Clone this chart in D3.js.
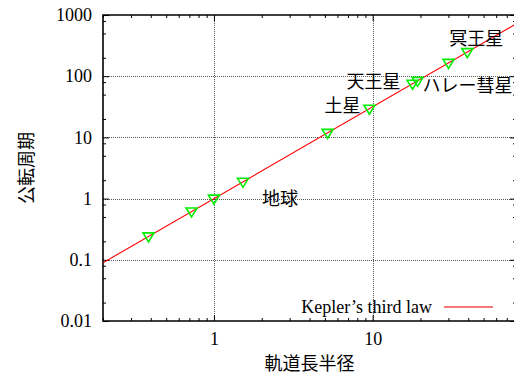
<!DOCTYPE html>
<html>
<head>
<meta charset="utf-8">
<script src="https://cdn.jsdelivr.net/npm/d3@7"></script>
<style>
  html, body { margin: 0; padding: 0; background: #fff; }
  svg { display: block; }
  text { font-family: "Liberation Serif", "Noto Sans CJK JP", serif; fill: #000; }
</style>
</head>
<body>
<div id="chart"></div>
<script>
// ---- data ----
const planetNames = ["水星", "金星", "地球", "火星", "木星", "土星", "天王星", "海王星", "冥王星", "ハレー彗星"];
const semiMajorAxis = [0.387, 0.723, 1.0, 1.524, 5.203, 9.537, 19.19, 30.07, 39.48, 17.83];
const orbitalPeriod = [0.241, 0.615, 1.0, 1.881, 11.86, 29.46, 84.01, 164.8, 247.7, 75.3];
const labeledNames = ["地球", "土星", "天王星", "ハレー彗星", "冥王星"];
const keplerX = [0.2, 80];
const keplerT = [0.0894, 715.5];
const xTickValues = [1, 10];
const yTickValues = [0.01, 0.1, 1, 10, 100, 1000];
const xTitle = "軌道長半径";
const yTitle = "公転周期";
const legendLabel = "Kepler’s third law";

// ---- layout ----
const W = 514, H = 374;
const L = 103, R = 516, T = 15, B = 321;

const svg = d3.select("#chart").append("svg").attr("width", W).attr("height", H);

const x = d3.scaleLog().domain([0.2, 80]).range([L, R]);
const y = d3.scaleLog().domain([0.01, 1000]).range([B, T]);

// minor ticks
const xMinor = [];
for (let e = -1; e <= 1; e++) for (let m = 2; m <= 9; m++) {
  const v = m * Math.pow(10, e);
  if (v >= 0.2 && v <= 80) xMinor.push(+v.toPrecision(3));
}
const yMinor = [];
for (let e = -2; e <= 2; e++) for (const m of [2, 5, 8]) yMinor.push(+(m * Math.pow(10, e)).toPrecision(3));

// grid
const grid = svg.append("g").attr("stroke", "#555").attr("stroke-width", 1).attr("stroke-dasharray", "1,1");
grid.selectAll("line.gx").data(xTickValues).join("line")
  .attr("x1", d => Math.round(x(d)) + 0.5).attr("x2", d => Math.round(x(d)) + 0.5)
  .attr("y1", T).attr("y2", B);
grid.selectAll("line.gy").data(yTickValues.filter(v => v > 0.01 && v < 1000)).join("line")
  .attr("y1", d => Math.round(y(d)) + 0.5).attr("y2", d => Math.round(y(d)) + 0.5)
  .attr("x1", L).attr("x2", R);

// axes
function styleAxis(g) {
  g.select(".domain").remove();
  g.selectAll(".tick line").attr("stroke", "#000").attr("stroke-width", 1);
  g.selectAll(".tick text").attr("font-size", 18).attr("font-family", "Liberation Serif, serif");
}
const fmt = d => String(d);

svg.append("g").attr("transform", `translate(0,${B})`)
  .call(d3.axisBottom(x).tickValues(xTickValues).tickFormat(fmt).tickSize(-6).tickSizeOuter(0).tickPadding(11))
  .call(styleAxis);
svg.append("g").attr("transform", `translate(0,${B})`)
  .call(d3.axisBottom(x).tickValues(xMinor).tickFormat("").tickSize(-3).tickSizeOuter(0))
  .call(styleAxis);
svg.append("g").attr("transform", `translate(0,${T})`)
  .call(d3.axisTop(x).tickValues(xTickValues).tickFormat("").tickSize(-6).tickSizeOuter(0))
  .call(styleAxis);
svg.append("g").attr("transform", `translate(0,${T})`)
  .call(d3.axisTop(x).tickValues(xMinor).tickFormat("").tickSize(-3).tickSizeOuter(0))
  .call(styleAxis);

svg.append("g").attr("transform", `translate(${L},0)`)
  .call(d3.axisLeft(y).tickValues(yTickValues).tickFormat(fmt).tickSize(-6).tickSizeOuter(0).tickPadding(11))
  .call(styleAxis);
svg.append("g").attr("transform", `translate(${L},0)`)
  .call(d3.axisLeft(y).tickValues(yMinor).tickFormat("").tickSize(-3).tickSizeOuter(0))
  .call(styleAxis);
svg.append("g").attr("transform", `translate(${R},0)`)
  .call(d3.axisRight(y).tickValues(yTickValues).tickFormat("").tickSize(-6).tickSizeOuter(0))
  .call(styleAxis);
svg.append("g").attr("transform", `translate(${R},0)`)
  .call(d3.axisRight(y).tickValues(yMinor).tickFormat("").tickSize(-3).tickSizeOuter(0))
  .call(styleAxis);

// border
svg.append("path")
  .attr("d", `M${R},${T}H${L}V${B}H${R}V${T}`)
  .attr("fill", "none").attr("stroke", "#000").attr("stroke-width", 1.6);

// Kepler line
svg.append("clipPath").attr("id", "clip").append("rect")
  .attr("x", L).attr("y", T).attr("width", R - L).attr("height", B - T);
const plot = svg.append("g").attr("clip-path", "url(#clip)");
plot.append("path")
  .datum(keplerX.map((v, i) => [v, keplerT[i]]))
  .attr("d", d3.line().x(d => x(d[0])).y(d => y(d[1])))
  .attr("fill", "none").attr("stroke", "#ff0000").attr("stroke-width", 1.1);

// points (downward triangles)
const pts = planetNames.map((n, i) => ({ name: n, a: semiMajorAxis[i], t: orbitalPeriod[i] }));
plot.selectAll("path.pt").data(pts).join("path")
  .attr("class", "pt")
  .attr("transform", d => `translate(${x(d.a)},${y(d.t)})`)
  .attr("d", "M-5.5,-3.5L5.5,-3.5L0,5.5Z")
  .attr("fill", "none").attr("stroke", "#00ee00").attr("stroke-width", 1.6);

// labels
const labelOffsets = {
  "地球": { dx: 48, dy: 0, anchor: "start" },
  "土星": { dx: -9, dy: -3, anchor: "end" },
  "天王星": { dx: -17, dy: 1, anchor: "end" },
  "ハレー彗星": { dx: 10, dy: 2, anchor: "start" },
  "冥王星": { dx: -18, dy: -13.5, anchor: "start" }
};
svg.selectAll("text.lbl").data(pts.filter(p => labeledNames.includes(p.name))).join("text")
  .attr("class", "lbl")
  .attr("x", d => x(d.a) + labelOffsets[d.name].dx)
  .attr("y", d => y(d.t) + labelOffsets[d.name].dy)
  .attr("text-anchor", d => labelOffsets[d.name].anchor)
  .attr("dominant-baseline", "central")
  .attr("font-family", "Noto Sans CJK JP")
  .attr("font-size", 18)
  .text(d => d.name);

// legend
svg.append("text").attr("x", 432).attr("y", 307).attr("text-anchor", "end")
  .attr("dominant-baseline", "central").attr("font-size", 18).text(legendLabel);
svg.append("line").attr("x1", 444).attr("x2", 493).attr("y1", 307).attr("y2", 307)
  .attr("stroke", "#f47a7a").attr("stroke-width", 2);

// axis titles
svg.append("text").attr("x", (L + R) / 2).attr("y", 364).attr("text-anchor", "middle")
  .attr("dominant-baseline", "central").attr("font-family", "Noto Sans CJK JP").attr("font-size", 18)
  .text(xTitle);
svg.append("text").attr("transform", "translate(27,168) rotate(-90)").attr("text-anchor", "middle")
  .attr("dominant-baseline", "central").attr("font-family", "Noto Sans CJK JP").attr("font-size", 18)
  .text(yTitle);
</script>
</body>
</html>
